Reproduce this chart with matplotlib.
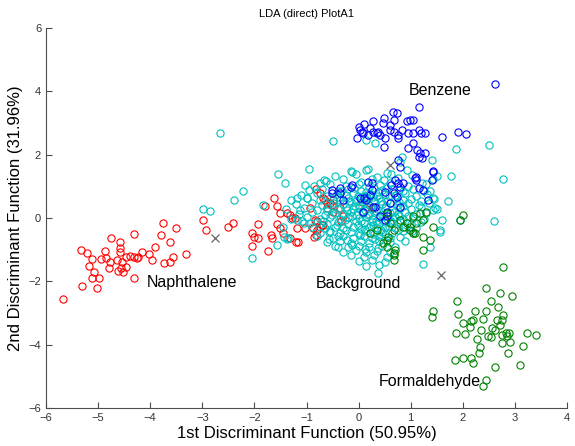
import numpy as np
import matplotlib
matplotlib.use("Agg")
import matplotlib.pyplot as plt

plt.rcParams['font.family'] = ['Liberation Sans', 'DejaVu Sans']

# Naphthalene (red)
naph = [(-5.67,-2.56), (-5.30,-2.14), (-5.03,-2.22), (-5.12,-1.88), (-4.98,-1.90), (-5.18,-1.52),
        (-5.08,-1.69), (-5.33,-1.02), (-5.22,-1.10), (-5.11,-1.30), (-4.95,-1.30), (-4.87,-1.04),
        (-4.76,-0.62), (-4.58,-0.75), (-4.58,-0.96), (-4.58,-1.06), (-4.85,-1.27), (-4.77,-1.40),
        (-4.80,-1.57), (-4.64,-1.33), (-4.55,-1.40), (-4.56,-1.57), (-4.61,-1.67), (-4.53,-1.69),
        (-4.47,-1.55), (-4.46,-1.22), (-4.39,-1.20), (-4.31,-1.23), (-4.26,-1.27), (-4.23,-1.22),
        (-4.31,-0.50), (-4.16,-1.06), (-4.02,-1.15), (-3.97,-1.33), (-3.91,-0.90), (-3.80,-0.54),
        (-3.62,-0.75), (-3.74,-1.43), (-3.62,-1.40), (-3.57,-1.22), (-3.32,-1.15), (-4.31,-1.90),
        (-3.50,-0.31), (-3.76,-0.17),
        (-2.99,-0.07), (-2.92,-0.38), (-2.50,-0.27), (-2.41,-0.17), (-2.05,-0.48), (-2.01,-0.61),
        (-1.93,-0.64), (-2.05,-0.88), (-1.94,-0.19), (-1.80,0.38), (-1.62,0.64), (-1.57,0.38),
        (-1.73,-1.03), (-1.69,-0.54), (-1.67,-0.64), (-1.51,0.15), (-1.38,0.17), (-1.32,0.10),
        (-1.22,0.00), (-1.57,-0.19), (-1.50,-0.32), (-1.32,-0.64), (-1.20,-0.75), (-1.16,-0.75),
        (-1.45,-0.48), (-1.03,-0.32), (-0.87,-0.32), (-0.80,-0.11), (-0.68,-0.22), (-0.82,-0.54),
        (-0.86,-0.59), (-0.93,0.31), (-0.82,0.91), (-0.75,0.78), (-0.64,0.57), (-0.55,0.46),
        (-0.49,0.57), (-0.61,0.31), (-0.68,0.62), (-0.61,0.46), (-0.52,0.41), (-0.49,0.20),
        (-0.33,-0.11), (-1.28,0.00), (-1.19,-0.32), (-0.80,-0.38), (-0.71,-0.22), (-0.84,-0.06),
        (-0.74,-0.27), (-0.36,0.31), (-0.29,0.05), (0.06,0.52)]

# Background (cyan)
back = [(-2.66,2.67), (-2.98,0.30), (-2.85,0.22), (-2.39,0.57), (-2.21,0.86), (-2.05,-1.25),
        (-1.41,1.12), (-1.03,1.04), (-1.83,0.41), (-1.57,-0.85), (-1.37,-0.67), (-1.19,-0.06),
        (-0.50,2.44), (-1.55,1.39), (-0.95,1.56), (-1.19,0.62), (-1.00,0.62), (-0.74,1.10),
        (-0.66,1.20), (-1.44,-0.59), (-1.35,-0.62), (-1.46,-0.29), (-1.09,-0.11), (-0.93,-0.17),
        (-1.12,0.25), (-0.56,-0.43), (-0.56,-0.67), (-0.40,-0.90), (0.14,2.46), (0.32,2.38),
        (-0.13,1.46), (0.15,1.52), (0.83,1.94), (0.79,1.78), (1.40,1.83), (1.87,2.17), (2.51,2.30),
        (2.78,1.22), (1.78,1.33), (1.71,0.55), (1.47,0.31), (1.61,-0.06), (1.57,-0.43), (1.37,-0.90),
        (1.24,-1.45), (0.37,-1.73), (2.59,-0.11), (1.95,-0.06), (1.56,-0.38), (1.42,1.22), (1.37,0.86),
        (1.42,0.62), (1.43,0.25), (1.50,1.33),
        (-0.15,1.48), (0.18,1.55), (0.55,1.43), (0.92,1.52),
        (-0.45,1.33), (-0.05,1.38), (0.35,1.30), (0.62,1.40), (1.02,1.36),
        (-0.62,1.18), (-0.30,1.24), (0.05,1.15), (0.25,1.22), (0.48,1.19), (0.75,1.26), (1.22,1.12),
        (-0.85,1.02), (-0.55,1.08), (-0.25,1.00), (0.00,1.07), (0.20,0.98), (0.42,1.05), (0.60,1.10),
        (0.95,1.01), (1.30,1.06),
        (-0.95,0.88), (-0.70,0.93), (-0.40,0.86), (-0.20,0.92), (0.05,0.85), (0.30,0.94), (0.45,0.88),
        (0.65,0.91), (0.85,0.84), (1.05,0.92), (1.25,0.86),
        (-1.10,0.73), (-0.80,0.78), (-0.60,0.70), (-0.42,0.76), (-0.25,0.72), (-0.10,0.79), (0.10,0.71),
        (0.20,0.77), (0.35,0.70), (0.50,0.76), (0.72,0.72), (0.90,0.79), (1.10,0.70), (1.32,0.76),
        (-1.30,0.58), (-1.00,0.63), (-0.75,0.56), (-0.55,0.62), (-0.35,0.58), (-0.20,0.64), (-0.05,0.55),
        (0.05,0.61), (0.15,0.66), (0.30,0.57), (0.40,0.62), (0.55,0.55), (0.70,0.63), (0.85,0.58),
        (1.00,0.61), (1.20,0.55), (1.45,0.60),
        (-1.20,0.43), (-0.90,0.48), (-0.70,0.41), (-0.50,0.47), (-0.30,0.44), (-0.15,0.49), (0.00,0.42),
        (0.10,0.47), (0.20,0.40), (0.30,0.50), (0.45,0.44), (0.60,0.48), (0.75,0.42), (0.95,0.47),
        (1.15,0.41), (1.35,0.46),
        (-1.40,0.28), (-1.05,0.33), (-0.80,0.26), (-0.60,0.31), (-0.40,0.29), (-0.25,0.34), (-0.10,0.27),
        (0.00,0.32), (0.12,0.25), (0.25,0.31), (0.35,0.28), (0.50,0.33), (0.65,0.26), (0.80,0.32),
        (1.00,0.28), (1.20,0.34), (1.50,0.29),
        (-1.15,0.13), (-0.90,0.18), (-0.65,0.11), (-0.45,0.16), (-0.30,0.12), (-0.15,0.19), (-0.05,0.10),
        (0.08,0.16), (0.20,0.12), (0.30,0.18), (0.45,0.11), (0.60,0.17), (0.75,0.13), (0.90,0.18),
        (1.10,0.12), (1.30,0.16),
        (-1.30,-0.02), (-1.00,0.03), (-0.75,-0.04), (-0.55,0.02), (-0.35,-0.03), (-0.20,0.04), (0.00,-0.01),
        (0.15,0.03), (0.25,-0.04), (0.40,0.02), (0.55,-0.02), (0.70,0.04), (0.85,-0.03), (1.05,0.01),
        (1.25,-0.04),
        (-1.05,-0.17), (-0.80,-0.12), (-0.60,-0.19), (-0.40,-0.13), (-0.20,-0.18), (-0.05,-0.11),
        (0.10,-0.16), (0.25,-0.13), (0.35,-0.19), (0.50,-0.12), (0.65,-0.17), (0.80,-0.14), (1.00,-0.18),
        (1.20,-0.12),
        (-0.90,-0.28), (-0.65,-0.33), (-0.45,-0.27), (-0.30,-0.32), (-0.10,-0.29), (0.05,-0.34),
        (0.20,-0.27), (0.35,-0.31), (0.50,-0.28), (0.70,-0.33), (0.90,-0.29), (1.10,-0.32),
        (-0.75,-0.47), (-0.55,-0.42), (-0.35,-0.48), (-0.15,-0.43), (0.00,-0.47), (0.15,-0.42),
        (0.30,-0.49), (0.45,-0.44), (0.65,-0.46), (0.85,-0.42), (1.05,-0.47),
        (-0.80,-0.58), (-0.50,-0.63), (-0.30,-0.57), (-0.10,-0.62), (0.10,-0.58), (0.25,-0.64),
        (0.40,-0.57), (0.60,-0.62), (0.80,-0.59),
        (-0.60,-0.77), (-0.35,-0.72), (-0.15,-0.78), (0.05,-0.73), (0.20,-0.79), (0.40,-0.74),
        (0.60,-0.77), (0.90,-0.72),
        (-0.45,-0.88), (-0.20,-0.93), (0.00,-0.87), (0.20,-0.92), (0.45,-0.88), (0.70,-0.91),
        (-0.30,-1.07), (-0.05,-1.02), (0.15,-1.08), (0.35,-1.03), (0.60,-1.06),
        (-0.15,-1.18), (0.10,-1.23), (0.30,-1.17), (0.55,-1.22),
        (0.00,-1.37), (0.25,-1.32), (0.50,-1.38),
        (0.15,-1.52), (0.40,-1.47),
        # extra points filling the dense core
        (-0.38,0.67), (-0.18,0.53), (-0.02,0.70), (0.12,0.56), (0.27,0.66), (0.43,0.53), (0.58,0.69),
        (0.77,0.51), (-0.47,0.37), (-0.22,0.24), (-0.07,0.38), (0.07,0.21), (0.17,0.36), (0.33,0.22),
        (0.52,0.38), (0.68,0.20), (0.86,0.39), (-0.52,0.08), (-0.27,-0.07), (-0.12,0.06), (0.05,-0.09),
        (0.19,0.08), (0.33,-0.08), (0.48,0.07), (0.62,-0.09), (0.78,0.06), (-0.42,-0.22), (-0.24,-0.38),
        (-0.02,-0.22), (0.13,-0.36), (0.28,-0.22), (0.43,-0.37), (0.58,-0.24), (0.75,-0.38),
        (-0.33,0.85), (-0.08,0.95), (0.14,0.83), (0.37,0.81), (0.55,0.96), (0.78,0.88), (-0.60,0.23),
        (-0.68,-0.10), (0.95,0.05), (1.02,-0.42), (-0.22,-0.68), (0.02,-0.55), (0.31,-0.66),
        (0.50,-0.52), (-0.40,-0.57), (0.12,-0.98), (-0.12,-0.85), (0.38,-0.95)]

# Benzene (blue)
benz = [(2.62,4.23), (1.15,3.50), (0.66,3.36), (0.73,3.31), (0.49,3.15), (0.67,3.10), (0.60,2.94),
        (0.47,2.99), (0.28,3.07), (0.11,2.97), (0.00,2.86), (0.03,2.78), (0.09,2.67), (0.22,2.83),
        (0.28,2.73), (0.35,2.67), (-0.03,2.52), (0.06,2.73), (0.19,2.62), (0.41,2.62), (0.50,2.52),
        (0.49,2.25), (0.38,2.73), (0.60,2.78), (0.67,2.73), (0.76,2.62), (0.83,2.78), (0.76,2.52),
        (0.92,3.07), (0.99,3.10), (1.05,3.10), (0.95,2.67), (1.05,2.67), (1.15,2.78), (1.19,2.67),
        (1.27,2.69), (1.05,2.36), (0.95,2.20), (1.12,2.15), (1.18,2.04), (1.27,2.04), (1.15,1.92),
        (1.21,1.88), (1.61,2.57), (1.90,2.73), (2.07,2.66), (1.42,1.48), (0.76,1.83), (0.79,1.60),
        (0.70,1.20), (0.76,1.09), (0.79,0.99), (1.08,1.25), (1.11,1.20), (1.24,0.88), (1.15,0.94),
        (1.43,1.46), (1.40,1.20), (-0.15,0.99), (-0.35,0.78), (-0.51,0.78), (-0.29,0.57), (0.10,0.62),
        (0.26,0.88), (0.22,0.73), (0.67,0.78), (0.73,0.67), (0.60,0.46), (0.79,0.36), (0.28,0.36),
        (0.54,0.20), (0.41,0.05), (0.09,0.20), (-0.52,0.88), (-0.36,0.94), (-0.13,1.04), (0.03,0.62),
        (0.15,0.57), (0.19,1.15), (0.26,1.10), (0.32,0.36), (0.50,0.83), (0.63,1.04), (0.86,1.10),
        (1.11,1.30), (1.34,0.57), (0.50,-0.06), (0.54,0.05)]

# Formaldehyde (green)
form = [(2.77,-1.54), (2.44,-2.20), (2.71,-2.38), (2.95,-2.45), (2.54,-2.62), (1.88,-2.61),
        (1.43,-2.94), (1.41,-3.12), (1.91,-3.03), (2.23,-2.93), (2.44,-2.94), (2.68,-2.82),
        (2.78,-3.06), (2.75,-3.22), (2.66,-3.22), (2.00,-3.31), (2.16,-3.25), (2.19,-3.22),
        (2.14,-3.43), (2.39,-3.19), (2.34,-3.54), (2.57,-3.48), (2.62,-3.54), (2.71,-3.38),
        (1.87,-3.62), (2.04,-3.67), (2.28,-3.83), (2.49,-3.73), (2.55,-3.75), (2.75,-3.69),
        (2.83,-3.64), (2.89,-3.62), (2.84,-3.73), (2.75,-3.94), (2.91,-3.91), (3.23,-3.62),
        (3.41,-3.69), (3.15,-4.04), (2.87,-4.25), (2.33,-4.06), (2.32,-4.25), (1.85,-4.48),
        (2.01,-4.43), (2.16,-4.41), (2.20,-4.59), (2.62,-4.71), (3.10,-4.64), (2.45,-5.11),
        (2.39,-5.30),
        (2.01,0.09), (1.95,-0.06), (1.43,-0.27), (1.23,-1.01), (0.70,-1.01), (0.67,-1.33),
        (0.47,-0.80), (0.54,-0.70), (0.79,-0.06), (0.92,-0.17), (1.05,0.05), (1.18,0.15),
        (1.24,-0.06), (0.22,-0.48), (0.35,-0.38), (0.54,-0.90), (0.67,-1.11), (0.57,-0.59),
        (0.86,-0.27), (0.99,-0.27), (1.08,-0.48), (1.30,0.20), (0.54,0.15), (0.60,-0.17),
        (0.67,-0.38), (0.99,-0.38), (1.11,-0.17), (1.05,-0.48), (1.24,-0.59), (1.37,-0.70),
        (0.67,-1.17)]

# class centroids (grey crosses)
cent = [(-2.76,-0.63), (0.60,1.67), (1.58,-1.80), (0.22,0.32)]

labels = ["Naphthalene", "Background", "Benzene", "Formaldehyde"]
label_pos = [(-3.2,-2.05), (0.0,-2.08), (1.56,4.04), (1.37,-5.15)]

fig = plt.figure(figsize=(5.75, 4.46), dpi=100)
ax = fig.add_axes([46/575, 38/446, 521/575, 380/446])

groups = [(naph, '#FF0000'), (back, '#00BFBF'), (benz, '#0000FF'), (form, '#008000')]
for pts, col in groups:
    pts = np.array(pts)
    ax.plot(pts[:, 0], pts[:, 1], 'o', mfc='none', mec=col, ms=5.2, mew=0.8, ls='none')

cent = np.array(cent)
ax.plot(cent[:, 0], cent[:, 1], 'x', color='0.4', ms=6, mew=0.9, ls='none')

for lab, (x, y) in zip(labels, label_pos):
    ax.text(x, y, lab, fontsize=11.5, ha='center', va='center', color='black', fontweight='medium')

ax.set_xlim(-6, 4)
ax.set_ylim(-6, 6)
ax.set_xticks(np.arange(-6, 5, 1))
ax.set_yticks(np.arange(-6, 7, 2))
ax.spines['top'].set_visible(False)
ax.spines['right'].set_visible(False)
for s in ['left', 'bottom']:
    ax.spines[s].set_color('0.3')
ax.tick_params(direction='in', length=4, labelsize=8, colors='0.3', labelcolor='0.2')
ax.set_xlabel("1st Discriminant Function (50.95%)", fontsize=12, labelpad=2)
ax.set_ylabel("2nd Discriminant Function (31.96%)", fontsize=12, labelpad=4)
ax.set_title("LDA (direct) PlotA1", fontsize=8, pad=8)

fig.savefig("out.png", dpi=100)
